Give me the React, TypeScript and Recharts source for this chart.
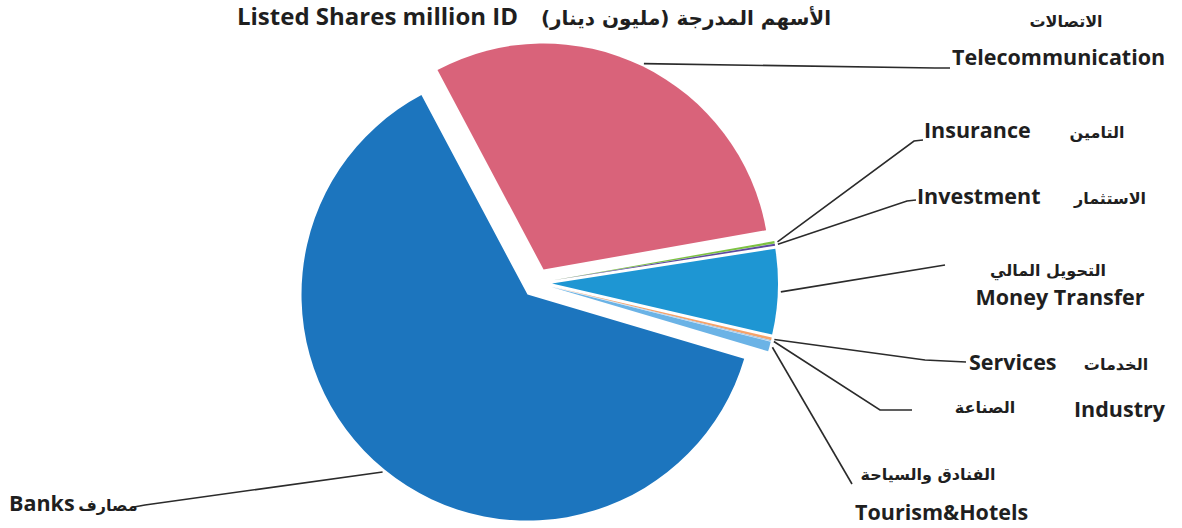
import { PieChart, Pie, Cell } from 'recharts';

// sectors in clockwise order, starting from the top-left edge of the telecom slice
const SECTORS = [
  'Telecommunication',
  'Insurance',
  'Investment',
  'Money Transfer',
  'Services',
  'Industry',
  'Tourism&Hotels',
  'Banks',
];
const SECTORS_AR = [
  'الاتصالات',
  'التامين',
  'الاستثمار',
  'التحويل المالي',
  'الخدمات',
  'الصناعة',
  'الفنادق والسياحة',
  'مصارف',
];
// listed shares, million ID
const LISTED_SHARES = [3892000, 22000, 20000, 790000, 25000, 10000, 90000, 8128000];

const COLORS = ['#D9637A', '#7DC242', '#5B4A9E', '#1E96D3', '#F5A36B', '#A9C9E8', '#6BB3E6', '#1C75BE'];

const W = 1182;
const H = 528;
const CX = 537;
const CY = 283;
const R = 226;
const EXPLODE = 15;
const START = 118;
const END = START - 360;

const EN_FONT = '"Open Sans", "DejaVu Sans", sans-serif';
const AR_FONT = '"DejaVu Sans", sans-serif';

type Pos = { x: number; y: number; anchor: 'start' | 'middle' | 'end' };
interface LabelLayout {
  path: [number, number][];
  en: Pos;
  ar: Pos;
}

const LABEL_LAYOUT: LabelLayout[] = [
  { path: [[935, 68], [950, 68]], en: { x: 952, y: 65, anchor: 'start' }, ar: { x: 1066, y: 27, anchor: 'middle' } },
  { path: [[914, 141], [923, 140]], en: { x: 924, y: 138, anchor: 'start' }, ar: { x: 1097, y: 138, anchor: 'middle' } },
  { path: [[907, 201], [916, 200]], en: { x: 917, y: 204, anchor: 'start' }, ar: { x: 1110, y: 204, anchor: 'middle' } },
  { path: [[945, 265]], en: { x: 1060, y: 305, anchor: 'middle' }, ar: { x: 1048, y: 276, anchor: 'middle' } },
  { path: [[925, 360], [966, 362]], en: { x: 969, y: 370, anchor: 'start' }, ar: { x: 1116, y: 370, anchor: 'middle' } },
  { path: [[880, 410], [912, 410]], en: { x: 1074, y: 417, anchor: 'start' }, ar: { x: 985, y: 413, anchor: 'middle' } },
  { path: [[852, 484]], en: { x: 855, y: 520, anchor: 'start' }, ar: { x: 928, y: 480, anchor: 'middle' } },
  { path: [[145, 505], [134, 507]], en: { x: 9, y: 511, anchor: 'start' }, ar: { x: 108, y: 511, anchor: 'middle' } },
];

const data = SECTORS.map((name, i) => ({ name, value: LISTED_SHARES[i] }));

const RAD = Math.PI / 180;
const total = LISTED_SHARES.reduce((a, b) => a + b, 0);
let acc = 0;
const midAngles = LISTED_SHARES.map((v) => {
  const m = START - ((acc + v / 2) / total) * 360;
  acc += v;
  return m;
});

function makeLabel(i: number) {
  return (props: any) => {
    if (props.index !== i) return null;
    const { cx, cy, midAngle, outerRadius } = props;
    const sx = cx + (outerRadius + 3) * Math.cos(-midAngle * RAD);
    const sy = cy + (outerRadius + 3) * Math.sin(-midAngle * RAD);
    const lay = LABEL_LAYOUT[i];
    const pts = [[sx, sy], ...lay.path].map((p) => p.join(',')).join(' ');
    return (
      <g>
        <polyline points={pts} fill="none" stroke="#2b2b2b" strokeWidth={1.6} />
        <text
          x={lay.en.x}
          y={lay.en.y}
          textAnchor={lay.en.anchor}
          fontFamily={EN_FONT}
          fontWeight={700}
          fontSize={21.5}
          fill="#1f1f1f"
        >
          {SECTORS[i]}
        </text>
        <text
          x={lay.ar.x}
          y={lay.ar.y}
          textAnchor={lay.ar.anchor}
          direction="rtl"
          fontFamily={AR_FONT}
          fontWeight={700}
          fontSize={16}
          fill="#1f1f1f"
        >
          {SECTORS_AR[i]}
        </text>
      </g>
    );
  };
}

export default function App() {
  return (
    <div style={{ position: 'absolute', left: 0, top: 0, width: W, height: H, background: '#fff' }}>
      <PieChart width={W} height={H} margin={{ top: 0, right: 0, bottom: 0, left: 0 }}>
        {SECTORS.map((_, i) => (
          <Pie
            key={i}
            data={data}
            dataKey="value"
            nameKey="name"
            cx={CX + EXPLODE * Math.cos(-midAngles[i] * RAD)}
            cy={CY + EXPLODE * Math.sin(-midAngles[i] * RAD)}
            outerRadius={R}
            startAngle={START}
            endAngle={END}
            isAnimationActive={false}
            label={makeLabel(i)}
            labelLine={false}
          >
            {data.map((_, j) => (
              <Cell key={j} fill={j === i ? COLORS[j] : 'none'} stroke="none" />
            ))}
          </Pie>
        ))}
      </PieChart>
      <svg
        width={W}
        height={H}
        style={{ position: 'absolute', left: 0, top: 0, pointerEvents: 'none' }}
      >
        <text x={518} y={25} textAnchor="end" fontFamily={EN_FONT} fontWeight={700} fontSize={24} fill="#1f1f1f">
          Listed Shares million ID
        </text>
        <text x={686} y={25} textAnchor="middle" direction="rtl" fontFamily={AR_FONT} fontWeight={700} fontSize={20} fill="#1f1f1f">
          الأسهم المدرجة (مليون دينار)
        </text>
      </svg>
    </div>
  );
}
